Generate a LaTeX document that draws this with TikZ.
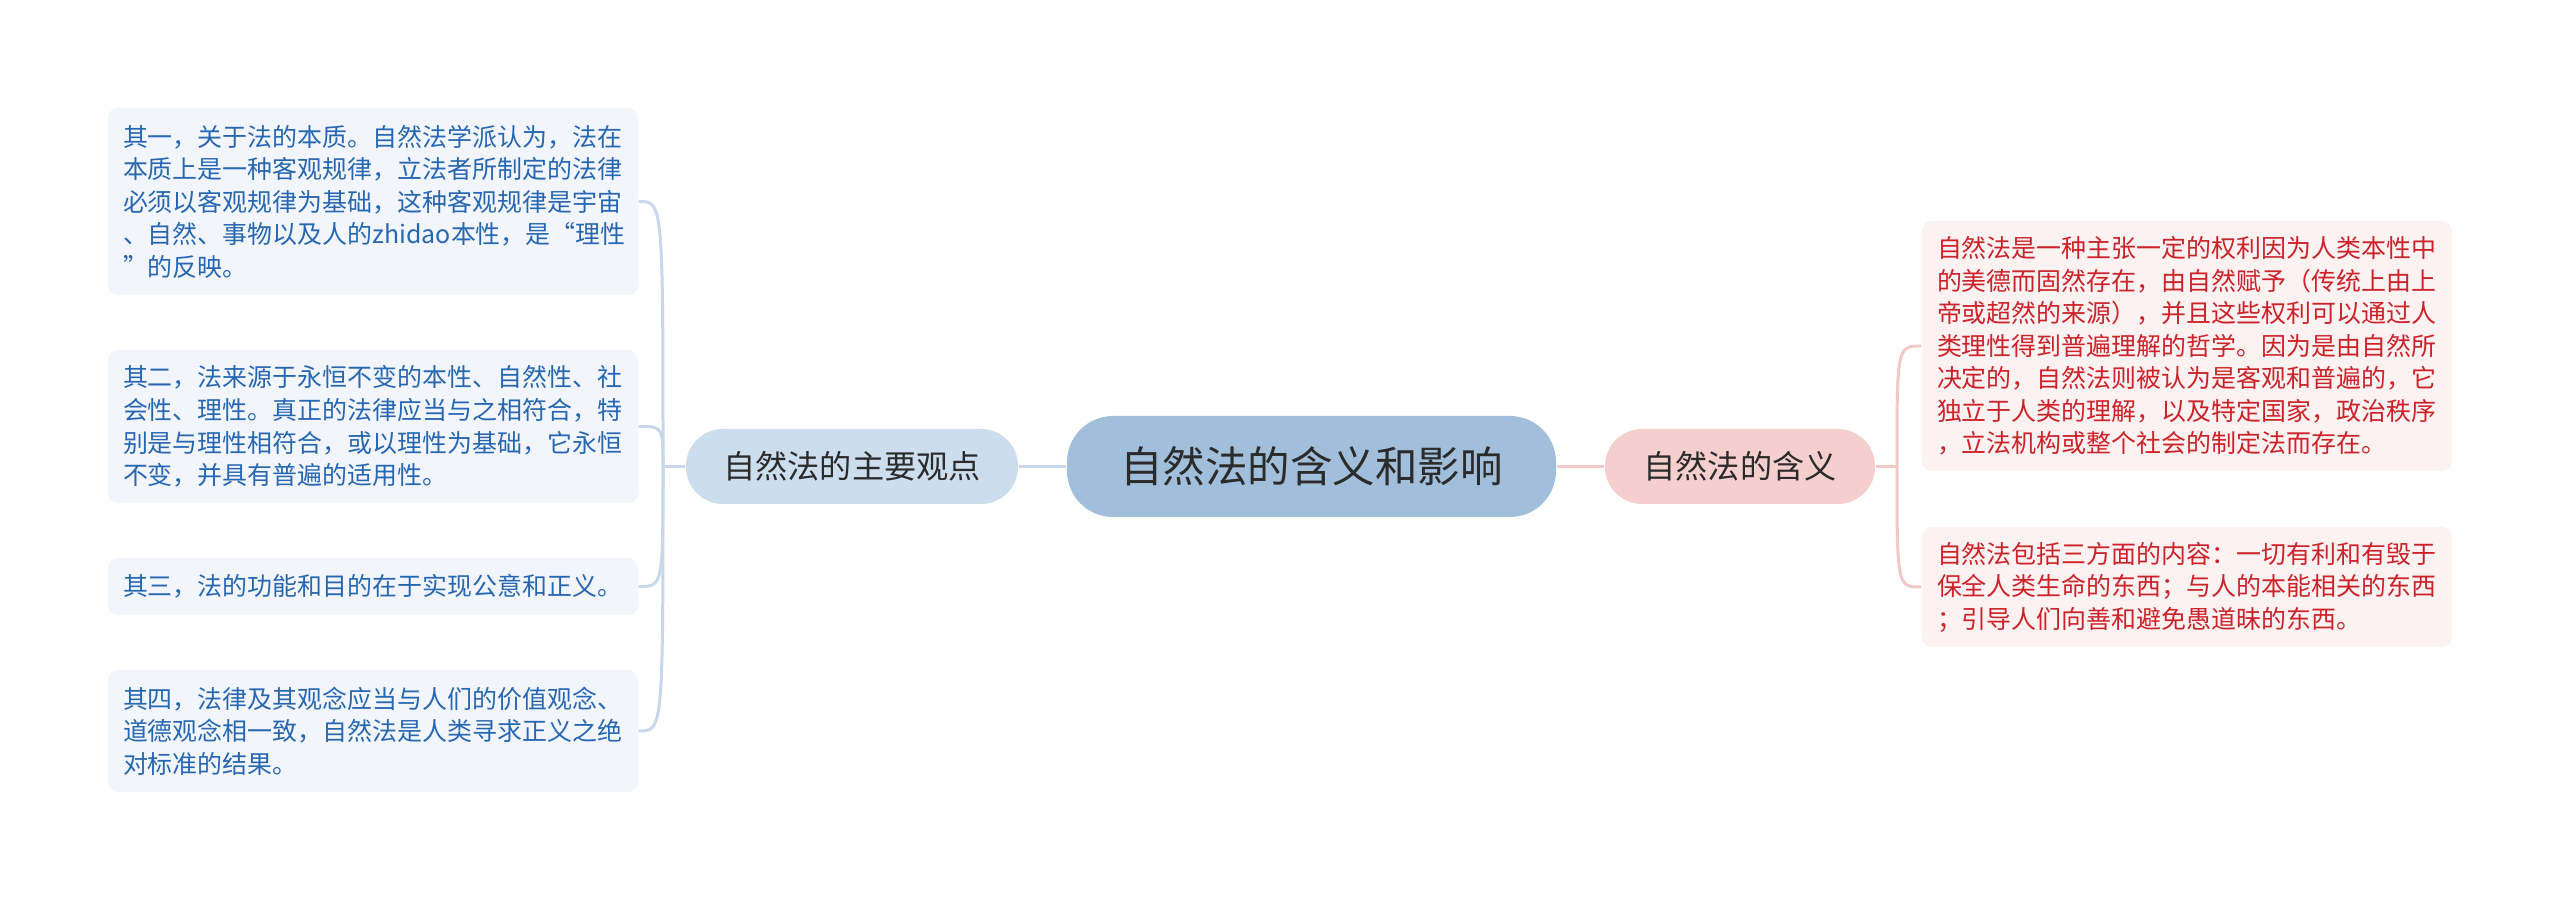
\documentclass[tikz,border=0pt]{standalone}
\usepackage{fontspec}
\setmainfont{Noto Sans CJK SC}
\usepackage{tikz}

\definecolor{rootfill}{HTML}{A1BFDB}
\definecolor{mainfill}{HTML}{CCDDEE}
\definecolor{meanfill}{HTML}{F5CECE}
\definecolor{lleaffill}{HTML}{F2F6FC}
\definecolor{rleaffill}{HTML}{FCF2F2}
\definecolor{ltext}{HTML}{2767B2}
\definecolor{rtext}{HTML}{CC2229}
\definecolor{darktext}{HTML}{2B2B2B}
\definecolor{bluelink}{HTML}{C8D8EA}
\definecolor{redlink}{HTML}{F2C8C8}

\begin{document}
\begin{tikzpicture}[x=0.1mm, y=-0.1mm,
  root/.style={fill=rootfill, text=darktext, rounded corners=4.6mm, minimum width=48.9mm, minimum height=10.1mm, font=\fontsize{12.1pt}{14pt}\selectfont},
  topic/.style={rounded corners=3.7mm, text=darktext, minimum height=7.5mm, font=\fontsize{9.15pt}{11pt}\selectfont},
  leaf/.style={rounded corners=1mm, text width=50mm, inner xsep=1.5mm, inner ysep=0pt, align=left, font=\fontsize{7.1pt}{9.25pt}\selectfont},
  lleaf/.style={leaf, fill=lleaffill, text=ltext},
  rleaf/.style={leaf, fill=rleaffill, text=rtext},
  bline/.style={draw=bluelink, line width=0.3mm},
  rline/.style={draw=redlink, line width=0.3mm}]
\fill[white] (0,0) rectangle (2560,901);

\node[root] (root) at (1311.5,466.5) {自然法的含义和影响};
\node[topic, fill=mainfill, minimum width=33.2mm] (main) at (852,466.5) {自然法的主要观点};
\node[topic, fill=meanfill, minimum width=27mm] (mean) at (1740,466.5) {自然法的含义};
\coordinate (jl) at (663,466.5);
\coordinate (jr) at (1897,466.5);

\node[lleaf, minimum height=18.7mm] (p1) at (373,201.5) {其一，关于法的本质。自然法学派认为，法在\\本质上是一种客观规律，立法者所制定的法律\\必须以客观规律为基础，这种客观规律是宇宙\\、自然、事物以及人的zhidao本性，是“理性\\”的反映。};
\node[lleaf, minimum height=15.3mm] (p2) at (373,426.5) {其二，法来源于永恒不变的本性、自然性、社\\会性、理性。真正的法律应当与之相符合，特\\别是与理性相符合，或以理性为基础，它永恒\\不变，并具有普遍的适用性。};
\node[lleaf, minimum height=5.7mm] (p3) at (373,586.5) {其三，法的功能和目的在于实现公意和正义。};
\node[lleaf, minimum height=12.2mm] (p4) at (373,731) {其四，法律及其观念应当与人们的价值观念、\\道德观念相一致，自然法是人类寻求正义之绝\\对标准的结果。};

\node[rleaf, minimum height=25mm] (m1) at (2187,346) {自然法是一种主张一定的权利因为人类本性中\\的美德而固然存在，由自然赋予（传统上由上\\帝或超然的来源），并且这些权利可以通过人\\类理性得到普遍理解的哲学。因为是由自然所\\决定的，自然法则被认为是客观和普遍的，它\\独立于人类的理解，以及特定国家，政治秩序\\，立法机构或整个社会的制定法而存在。};
\node[rleaf, minimum height=12mm] (m2) at (2187,587) {自然法包括三方面的内容：一切有利和有毁于\\保全人类生命的东西；与人的本能相关的东西\\；引导人们向善和避免愚道昧的东西。};

\draw[bline] (root) -- (main);
\draw[bline] (main.west) -- (jl);
\foreach \p in {p1,p2,p3,p4}
  \draw[bline] (jl) .. controls (jl |- \p.east) .. (\p.east);

\draw[rline] (root) -- (mean);
\draw[rline] (mean.east) -- (jr);
\foreach \m in {m1,m2}
  \draw[rline] (jr) .. controls (jr |- \m.west) .. (\m.west);
\end{tikzpicture}
\end{document}
